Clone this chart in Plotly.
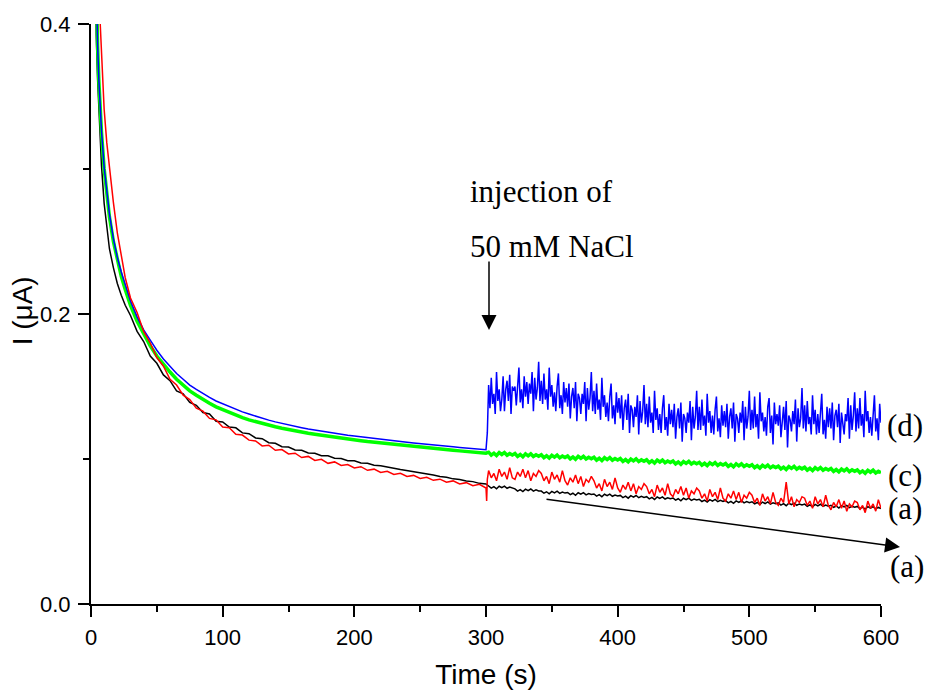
import plotly.graph_objects as go

# ---------------- data ----------------
T_PRE = [3, 4, 5, 6, 7, 8, 10, 12, 14, 17, 20, 23, 26] + list(range(30, 301, 5))

BLACK_PRE = [0.470, 0.392, 0.362, 0.339, 0.319, 0.302, 0.276, 0.259, 0.245, 0.232, 0.221, 0.213, 0.206,
             0.199, 0.188, 0.181, 0.171, 0.166, 0.158, 0.154, 0.147, 0.145, 0.139,
             0.137, 0.132, 0.131, 0.126, 0.1255, 0.122, 0.1215, 0.118, 0.1175, 0.1145,
             0.1140, 0.1112, 0.1108, 0.1085, 0.1083, 0.1062, 0.1060, 0.1042, 0.1040, 0.1023,
             0.1022, 0.1005, 0.1004, 0.0988, 0.0988, 0.0972, 0.0970, 0.0957, 0.0953, 0.0942,
             0.0936, 0.0927, 0.0920, 0.0911, 0.0904, 0.0895, 0.0889, 0.0879, 0.0874, 0.0863,
             0.0859, 0.0848, 0.0844, 0.0832, 0.0828]

RED_PRE = [0.600, 0.520, 0.460, 0.428, 0.400, 0.377, 0.341, 0.318, 0.300, 0.277, 0.256, 0.239, 0.225,
           0.211, 0.201, 0.188, 0.180, 0.170, 0.164, 0.155, 0.151, 0.144, 0.141,
           0.135, 0.133, 0.128, 0.127, 0.122, 0.1215, 0.117, 0.1165, 0.113, 0.1125,
           0.109, 0.1095, 0.106, 0.1065, 0.1035, 0.1040, 0.1010, 0.1018, 0.0990, 0.0998,
           0.0970, 0.0980, 0.0955, 0.0962, 0.0938, 0.0947, 0.0922, 0.0930, 0.0907, 0.0915,
           0.0893, 0.0901, 0.0879, 0.0887, 0.0866, 0.0874, 0.0853, 0.0861, 0.0840, 0.0849,
           0.0828, 0.0837, 0.0816, 0.0825, 0.0800]

GREEN_PRE = [0.480, 0.420, 0.385, 0.360, 0.341, 0.325, 0.300, 0.281, 0.267, 0.250, 0.237, 0.226, 0.217,
             0.206, 0.195, 0.186, 0.178, 0.171, 0.165, 0.160, 0.155, 0.151, 0.147,
             0.144, 0.141, 0.1385, 0.136, 0.134, 0.132, 0.130, 0.1285, 0.127, 0.1257,
             0.1245, 0.1233, 0.1222, 0.1212, 0.1202, 0.1193, 0.1185, 0.1177, 0.1170, 0.1163,
             0.1156, 0.1150, 0.1144, 0.1138, 0.1132, 0.1126, 0.1120, 0.1115, 0.1110, 0.1105,
             0.1100, 0.1095, 0.1090, 0.1085, 0.1080, 0.1076, 0.1072, 0.1068, 0.1064, 0.1060,
             0.1056, 0.1052, 0.1048, 0.1044, 0.1040]

BLUE_PRE = [0.480, 0.421, 0.386, 0.361, 0.342, 0.326, 0.301, 0.283, 0.269, 0.252, 0.239, 0.229, 0.220,
            0.209, 0.198, 0.189, 0.182, 0.175, 0.169, 0.164, 0.159, 0.155, 0.151,
            0.148, 0.145, 0.1425, 0.140, 0.138, 0.136, 0.134, 0.1325, 0.131, 0.1295,
            0.128, 0.1268, 0.1256, 0.1245, 0.1235, 0.1225, 0.1216, 0.1207, 0.1199, 0.1191,
            0.1184, 0.1177, 0.1170, 0.1164, 0.1158, 0.1152, 0.1146, 0.1140, 0.1135, 0.1130,
            0.1125, 0.1120, 0.1115, 0.1110, 0.1105, 0.1100, 0.1096, 0.1092, 0.1088, 0.1084,
            0.1080, 0.1076, 0.1072, 0.1068, 0.1064]

# after injection (t > 300 s)
T_BLUE_POST = [301] + list(range(302, 601, 1))
BLUE_POST = [0.118,
             0.151, 0.135, 0.156, 0.138, 0.145, 0.131, 0.160, 0.140, 0.148, 0.133,
             0.141, 0.157, 0.133, 0.148, 0.154, 0.140, 0.158, 0.131, 0.150, 0.147,
             0.150, 0.137, 0.154, 0.163, 0.139, 0.148, 0.135, 0.157, 0.143, 0.153,
             0.138, 0.152, 0.145, 0.160, 0.133, 0.156, 0.141, 0.149, 0.167, 0.140,
             0.154, 0.138, 0.159, 0.141, 0.148, 0.134, 0.163, 0.143, 0.151, 0.136,
             0.146, 0.133, 0.150, 0.159, 0.135, 0.144, 0.131, 0.153, 0.139, 0.149,
             0.136, 0.152, 0.128, 0.143, 0.149, 0.135, 0.153, 0.126, 0.145, 0.142,
             0.131, 0.145, 0.138, 0.153, 0.126, 0.149, 0.134, 0.142, 0.160, 0.133,
             0.147, 0.131, 0.152, 0.134, 0.141, 0.127, 0.156, 0.136, 0.144, 0.129,
             0.139, 0.126, 0.143, 0.152, 0.128, 0.137, 0.124, 0.146, 0.132, 0.142,
             0.128, 0.144, 0.120, 0.135, 0.141, 0.127, 0.145, 0.118, 0.137, 0.134,
             0.122, 0.136, 0.129, 0.144, 0.117, 0.140, 0.125, 0.133, 0.151, 0.124,
             0.138, 0.122, 0.143, 0.125, 0.132, 0.118, 0.147, 0.127, 0.135, 0.120,
             0.131, 0.118, 0.135, 0.144, 0.120, 0.129, 0.116, 0.138, 0.124, 0.134,
             0.122, 0.138, 0.114, 0.129, 0.135, 0.121, 0.139, 0.112, 0.131, 0.128,
             0.118, 0.132, 0.125, 0.140, 0.113, 0.136, 0.121, 0.129, 0.147, 0.120,
             0.136, 0.120, 0.141, 0.123, 0.130, 0.116, 0.145, 0.125, 0.133, 0.118,
             0.130, 0.117, 0.134, 0.143, 0.119, 0.128, 0.115, 0.137, 0.123, 0.133,
             0.122, 0.138, 0.114, 0.129, 0.135, 0.121, 0.139, 0.112, 0.131, 0.128,
             0.118, 0.132, 0.125, 0.140, 0.113, 0.136, 0.121, 0.129, 0.147, 0.120,
             0.134, 0.121, 0.143, 0.122, 0.131, 0.114, 0.146, 0.126, 0.132, 0.119,
             0.129, 0.116, 0.136, 0.142, 0.118, 0.130, 0.110, 0.139, 0.124, 0.131,
             0.123, 0.137, 0.115, 0.128, 0.136, 0.120, 0.140, 0.108, 0.130, 0.127,
             0.119, 0.133, 0.124, 0.141, 0.112, 0.135, 0.122, 0.128, 0.149, 0.121,
             0.137, 0.119, 0.140, 0.124, 0.129, 0.117, 0.144, 0.124, 0.134, 0.117,
             0.131, 0.118, 0.133, 0.145, 0.117, 0.127, 0.114, 0.136, 0.122, 0.135,
             0.121, 0.139, 0.113, 0.130, 0.134, 0.122, 0.138, 0.111, 0.132, 0.126,
             0.117, 0.131, 0.126, 0.142, 0.114, 0.137, 0.120, 0.130, 0.146, 0.119,
             0.135, 0.121, 0.142, 0.123, 0.131, 0.115, 0.147, 0.126, 0.133, 0.118,
             0.129, 0.116, 0.135, 0.144, 0.119, 0.128, 0.113, 0.138, 0.125]

T_RED_POST = [300.5, 301] + list(range(302, 601, 2))
RED_POST = [0.071, 0.086,
            0.092, 0.087, 0.090, 0.085, 0.093, 0.088, 0.091, 0.086, 0.094, 0.087,
            0.086, 0.091, 0.088, 0.093, 0.087, 0.092, 0.085, 0.090, 0.088, 0.092,
            0.090, 0.085, 0.088, 0.083, 0.091, 0.086, 0.089, 0.084, 0.092, 0.085,
            0.082, 0.087, 0.084, 0.089, 0.083, 0.088, 0.081, 0.086, 0.084, 0.088,
            0.085, 0.080, 0.083, 0.078, 0.086, 0.081, 0.084, 0.079, 0.087, 0.080,
            0.077, 0.082, 0.079, 0.084, 0.078, 0.083, 0.076, 0.081, 0.079, 0.083,
            0.081, 0.076, 0.079, 0.074, 0.082, 0.077, 0.080, 0.075, 0.083, 0.076,
            0.074, 0.079, 0.076, 0.081, 0.075, 0.080, 0.073, 0.078, 0.076, 0.080,
            0.078, 0.073, 0.076, 0.071, 0.079, 0.074, 0.077, 0.072, 0.080, 0.073,
            0.071, 0.076, 0.073, 0.078, 0.072, 0.077, 0.070, 0.075, 0.073, 0.077,
            0.075, 0.070, 0.073, 0.068, 0.076, 0.071, 0.074, 0.069, 0.077, 0.070,
            0.068, 0.073, 0.070, 0.084, 0.069, 0.074, 0.067, 0.072, 0.070, 0.074,
            0.073, 0.068, 0.071, 0.066, 0.074, 0.069, 0.072, 0.067, 0.075, 0.068,
            0.065, 0.070, 0.067, 0.072, 0.066, 0.071, 0.064, 0.069, 0.067, 0.071,
            0.070, 0.065, 0.068, 0.063, 0.071, 0.066, 0.069, 0.064, 0.072, 0.066]

T_POST2 = list(range(302, 601, 2))
GREEN_POST = [0.1047, 0.1027, 0.1040, 0.1024, 0.1044, 0.1031, 0.1045, 0.1026, 0.1038, 0.1028,
              0.1038, 0.1018, 0.1031, 0.1015, 0.1035, 0.1022, 0.1036, 0.1017, 0.1029, 0.1019,
              0.1029, 0.1009, 0.1022, 0.1006, 0.1026, 0.1013, 0.1027, 0.1008, 0.1020, 0.1010,
              0.1021, 0.1001, 0.1014, 0.0998, 0.1018, 0.1005, 0.1019, 0.1000, 0.1012, 0.1002,
              0.1012, 0.0992, 0.1005, 0.0989, 0.1009, 0.0996, 0.1010, 0.0991, 0.1003, 0.0993,
              0.1003, 0.0983, 0.0996, 0.0980, 0.1000, 0.0987, 0.1001, 0.0982, 0.0994, 0.0984,
              0.0995, 0.0975, 0.0988, 0.0972, 0.0992, 0.0979, 0.0993, 0.0974, 0.0986, 0.0976,
              0.0986, 0.0966, 0.0979, 0.0963, 0.0983, 0.0970, 0.0984, 0.0965, 0.0977, 0.0967,
              0.0977, 0.0957, 0.0970, 0.0954, 0.0974, 0.0961, 0.0975, 0.0956, 0.0968, 0.0958,
              0.0969, 0.0949, 0.0962, 0.0946, 0.0966, 0.0953, 0.0967, 0.0948, 0.0960, 0.0950,
              0.0960, 0.0940, 0.0953, 0.0937, 0.0957, 0.0944, 0.0958, 0.0939, 0.0951, 0.0941,
              0.0951, 0.0931, 0.0944, 0.0928, 0.0948, 0.0935, 0.0949, 0.0930, 0.0942, 0.0932,
              0.0943, 0.0923, 0.0936, 0.0920, 0.0940, 0.0927, 0.0941, 0.0922, 0.0934, 0.0924,
              0.0934, 0.0914, 0.0927, 0.0911, 0.0931, 0.0918, 0.0932, 0.0913, 0.0925, 0.0915,
              0.0925, 0.0905, 0.0918, 0.0902, 0.0922, 0.0909, 0.0923, 0.0904, 0.0916, 0.0906]

BLACK_POST = [0.0814, 0.0799, 0.0809, 0.0795, 0.0812, 0.0802, 0.0813, 0.0798, 0.0807, 0.0800,
              0.0794, 0.0779, 0.0789, 0.0775, 0.0792, 0.0782, 0.0793, 0.0778, 0.0787, 0.0780,
              0.0779, 0.0764, 0.0774, 0.0760, 0.0777, 0.0767, 0.0778, 0.0763, 0.0772, 0.0765,
              0.0769, 0.0754, 0.0764, 0.0750, 0.0767, 0.0757, 0.0768, 0.0753, 0.0762, 0.0755,
              0.0759, 0.0744, 0.0754, 0.0740, 0.0757, 0.0747, 0.0758, 0.0743, 0.0752, 0.0745,
              0.0749, 0.0734, 0.0744, 0.0730, 0.0747, 0.0737, 0.0748, 0.0733, 0.0742, 0.0735,
              0.0740, 0.0725, 0.0735, 0.0721, 0.0738, 0.0728, 0.0739, 0.0724, 0.0733, 0.0726,
              0.0731, 0.0716, 0.0726, 0.0712, 0.0729, 0.0719, 0.0730, 0.0715, 0.0724, 0.0717,
              0.0722, 0.0707, 0.0717, 0.0703, 0.0720, 0.0710, 0.0721, 0.0706, 0.0715, 0.0708,
              0.0713, 0.0698, 0.0708, 0.0694, 0.0711, 0.0701, 0.0712, 0.0697, 0.0706, 0.0699,
              0.0705, 0.0690, 0.0700, 0.0686, 0.0703, 0.0693, 0.0704, 0.0689, 0.0698, 0.0691,
              0.0697, 0.0682, 0.0692, 0.0678, 0.0695, 0.0685, 0.0696, 0.0681, 0.0690, 0.0683,
              0.0689, 0.0674, 0.0684, 0.0670, 0.0687, 0.0677, 0.0688, 0.0673, 0.0682, 0.0675,
              0.0681, 0.0666, 0.0676, 0.0662, 0.0679, 0.0669, 0.0680, 0.0665, 0.0674, 0.0667,
              0.0673, 0.0658, 0.0668, 0.0654, 0.0671, 0.0661, 0.0672, 0.0657, 0.0666, 0.0659]

X_TICKS = [0, 100, 200, 300, 400, 500, 600]
Y_TICKS = [0.0, 0.2, 0.4]
Y_TICK_TEXT = ["0.0", "0.2", "0.4"]

# ---------------- figure ----------------
SANS = "Liberation Sans, Arial, sans-serif"
SERIF = "Liberation Serif, Times New Roman, serif"

fig = go.Figure()
fig.add_trace(go.Scatter(x=T_PRE + T_POST2, y=BLACK_PRE + BLACK_POST, mode="lines",
                         line=dict(color="#000000", width=1.5), name="a"))
fig.add_trace(go.Scatter(x=T_PRE + T_POST2, y=GREEN_PRE + GREEN_POST, mode="lines",
                         line=dict(color="#00FF00", width=3.5), name="c"))
fig.add_trace(go.Scatter(x=T_PRE + T_BLUE_POST, y=BLUE_PRE + BLUE_POST, mode="lines",
                         line=dict(color="#0000FF", width=1.5), name="d"))
fig.add_trace(go.Scatter(x=T_PRE + T_RED_POST, y=RED_PRE + RED_POST, mode="lines",
                         line=dict(color="#FF0000", width=1.5), name="a2"))

axis_common = dict(showline=True, linecolor="black", linewidth=2, ticks="outside",
                   ticklen=11, tickwidth=2, tickcolor="black", showgrid=False, zeroline=False,
                   automargin=False,
                   tickfont=dict(family=SANS, size=22, color="black"))

fig.update_xaxes(range=[0, 600], tickvals=X_TICKS, ticktext=[str(v) for v in X_TICKS],
                 ticklabelstandoff=2,
                 minor=dict(ticks="outside", dtick=50, ticklen=6, tickwidth=2, tickcolor="black"),
                 title=dict(text="Time (s)", font=dict(family=SANS, size=28, color="black"), standoff=15),
                 **axis_common)
fig.update_yaxes(range=[0, 0.4], tickvals=Y_TICKS, ticktext=Y_TICK_TEXT,
                 ticklabelstandoff=3,
                 minor=dict(ticks="outside", dtick=0.1, ticklen=6, tickwidth=2, tickcolor="black"),
                 **axis_common)

ann = []
# y-axis title (overlaps the tick label like the original)
ann.append(dict(text="I (μA)", xref="paper", yref="paper", x=-0.087, y=0.505, showarrow=False,
                textangle=-90, font=dict(family=SANS, size=28, color="black"),
                xanchor="center", yanchor="middle"))
ann.append(dict(text="injection of", xref="paper", yref="paper", x=0.477, y=0.712, showarrow=False,
                xanchor="left", yanchor="middle", font=dict(family=SERIF, size=31, color="black")))
ann.append(dict(text="50 mM NaCl", xref="paper", yref="paper", x=0.477, y=0.617, showarrow=False,
                xanchor="left", yanchor="middle", font=dict(family=SERIF, size=31, color="black")))
# vertical arrow marking the injection
ann.append(dict(text="", xref="paper", yref="paper", x=(489 - 91) / 790, y=(604 - 330) / 580,
                ax=0, ay=-70, showarrow=True, arrowhead=2, arrowsize=2, arrowwidth=1.5,
                arrowcolor="black"))
# curve labels
for lbl, px, py in [("(d)", 1.031, 0.3086), ("(c)", 1.031, 0.2224), ("(a)", 1.031, 0.1655),
                    ("(a)", 1.0325, 0.0638)]:
    ann.append(dict(text=lbl, xref="paper", yref="paper", x=px, y=py, showarrow=False,
                    xanchor="center", yanchor="middle",
                    font=dict(family=SERIF, size=31, color="black")))
# arrow from black curve to the lower (a) label
ann.append(dict(text="", xref="paper", yref="paper", x=(900 - 91) / 790, y=(604 - 547) / 580,
                ax=545 - 900, ay=499 - 547, showarrow=True, arrowhead=2, arrowsize=2,
                arrowwidth=1.5, arrowcolor="black"))

# the page body adds an 8 px offset, so the figure is 8 px smaller and margins 8 px tighter
fig.update_layout(width=926, height=685, margin=dict(l=83, r=53, t=16, b=89),
                  plot_bgcolor="white", paper_bgcolor="white", showlegend=False,
                  annotations=ann)

fig.write_html("out.html")
